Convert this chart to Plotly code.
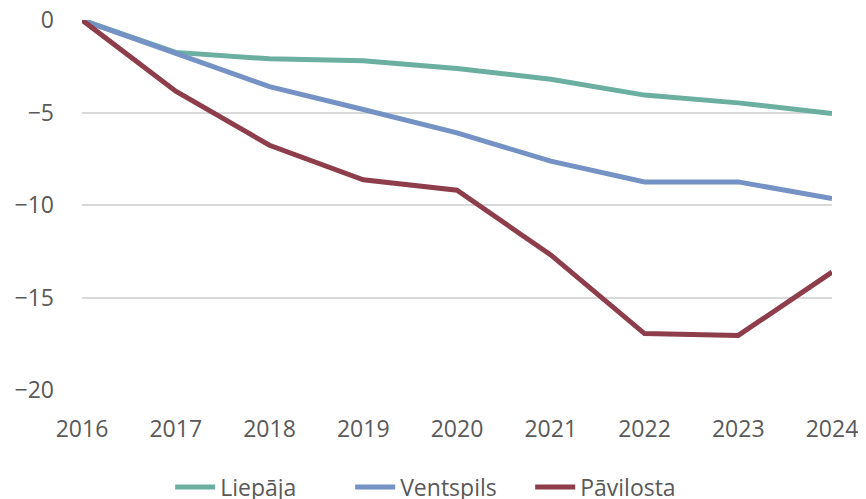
import plotly.graph_objects as go

years = [2016, 2017, 2018, 2019, 2020, 2021, 2022, 2023, 2024]
liepaja = [0, -1.75, -2.1, -2.2, -2.62, -3.2, -4.06, -4.48, -5.05]
ventspils = [0, -1.8, -3.6, -4.84, -6.1, -7.63, -8.75, -8.75, -9.65]
pavilosta = [0, -3.85, -6.77, -8.64, -9.2, -12.7, -16.95, -17.05, -13.63]
y_ticks = [0, -5, -10, -15, -20]

series = [
    ("Liepāja", liepaja, "#6AAF9F"),
    ("Ventspils", ventspils, "#7492C4"),
    ("Pāvilosta", pavilosta, "#8E3D4B"),
]

fig = go.Figure()
for name, vals, color in series:
    fig.add_trace(go.Scatter(x=years, y=vals, name=name, mode="lines",
                             line=dict(color=color, width=5)))

font_family = "Open Sans"
fs = 23
fig.update_layout(
    width=858, height=491,
    margin=dict(l=74, r=34, t=12, b=109, autoexpand=False),
    plot_bgcolor="white", paper_bgcolor="white",
    font=dict(family=font_family, size=fs, color="#595959"),
    showlegend=True,
    legend=dict(orientation="h", x=0.189, xanchor="left", xref="container",
                y=0.0244, yanchor="middle", yref="container",
                font=dict(size=fs, color="#595959"), itemwidth=40,
                entrywidth=125, entrywidthmode="pixels",
                traceorder="normal"),
    xaxis=dict(range=[2016, 2024], tickvals=years, ticktext=[str(y) for y in years],
               showgrid=False, zeroline=False, showline=False, automargin=False,
               ticklabeloverflow="allow",
               ticks="", ticklabelstandoff=23, tickfont=dict(size=fs, color="#595959")),
    yaxis=dict(range=[-20, 0], tickvals=y_ticks, ticktext=[str(v).replace("-", "−") for v in y_ticks],
               showgrid=True, gridcolor="#D9D9D9", gridwidth=2, zeroline=False,
               showline=False, ticks="", ticklabelstandoff=27, automargin=False,
               ticklabeloverflow="allow",
               tickfont=dict(size=fs, color="#595959")),
)

fig.write_html("out.html")
